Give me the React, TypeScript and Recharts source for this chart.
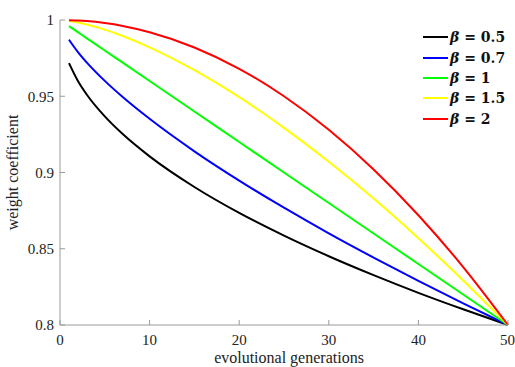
import { LineChart, Line, XAxis, YAxis, Legend, Label } from 'recharts'

// generation index and weight coefficient
const generations = [1, 2, 3, 5, 7, 10, 15, 20, 25, 30, 35, 40, 45, 50]
const beta05 = [0.9717, 0.96, 0.951, 0.9368, 0.9252, 0.9106, 0.8905, 0.8735, 0.8586, 0.8451, 0.8327, 0.8211, 0.8103, 0.8]
const beta07 = [0.9871, 0.979, 0.9721, 0.9601, 0.9495, 0.9352, 0.9139, 0.8947, 0.8769, 0.8601, 0.8442, 0.8289, 0.8142, 0.8]
const beta1 = [0.996, 0.992, 0.988, 0.98, 0.972, 0.96, 0.94, 0.92, 0.9, 0.88, 0.86, 0.84, 0.82, 0.8]
const beta15 = [0.9994, 0.9984, 0.9971, 0.9937, 0.9895, 0.9821, 0.9671, 0.9494, 0.9293, 0.907, 0.8829, 0.8569, 0.8292, 0.8]
const beta2 = [0.9999, 0.9997, 0.9993, 0.998, 0.9961, 0.992, 0.982, 0.968, 0.95, 0.928, 0.902, 0.872, 0.838, 0.8]

const xTicks = [0, 10, 20, 30, 40, 50]
const yTicks = [0.8, 0.85, 0.9, 0.95, 1]

const series = [
  { key: 'b05', label: '0.5', color: '#000000' },
  { key: 'b07', label: '0.7', color: '#0000ff' },
  { key: 'b1', label: '1', color: '#00ff00' },
  { key: 'b15', label: '1.5', color: '#ffff00' },
  { key: 'b2', label: '2', color: '#ff0000' },
]

const data = generations.map((t, i) => ({
  t,
  b05: beta05[i],
  b07: beta07[i],
  b1: beta1[i],
  b15: beta15[i],
  b2: beta2[i],
}))

const serif = '"Liberation Serif", "Times New Roman", serif'
const axisGray = '#9a9a9a'

function BetaLegend() {
  return (
    <div style={{ fontFamily: '"DejaVu Serif", serif', fontWeight: 'bold', fontSize: 14, color: '#111' }}>
      {series.map((s) => (
        <div key={s.key} style={{ display: 'flex', alignItems: 'center', height: 20.4 }}>
          <div style={{ width: 25, height: 2, background: s.color, marginRight: 2 }} />
          <span style={{ whiteSpace: 'nowrap' }}>
            <span style={{ fontStyle: 'italic' }}>β</span> = {s.label}
          </span>
        </div>
      ))}
    </div>
  )
}

export default function App() {
  return (
    <div style={{ position: 'fixed', left: 0, top: 0, background: '#fff' }}>
      <LineChart width={515} height={367} data={data} margin={{ top: 20, right: 7, bottom: 0, left: 0 }}>
        <XAxis
          dataKey="t"
          type="number"
          domain={[0, 50]}
          ticks={xTicks}
          height={42}
          stroke={axisGray}
          tickSize={-5}
          tickMargin={14}
          tick={{ fill: '#222', fontFamily: serif, fontSize: 15 }}
        >
          <Label
            value="evolutional generations"
            position="insideBottom"
            offset={4}
            dx={5}
            style={{ fill: '#222', fontFamily: serif, fontSize: 16 }}
          />
        </XAxis>
        <YAxis
          type="number"
          domain={[0.8, 1]}
          ticks={yTicks}
          width={60}
          stroke={axisGray}
          tickSize={-5}
          tickMargin={11}
          tick={{ fill: '#222', fontFamily: serif, fontSize: 15 }}
        >
          <Label
            value="weight coefficient"
            angle={-90}
            position="insideLeft"
            offset={12}
            style={{ fill: '#222', fontFamily: serif, fontSize: 16, textAnchor: 'middle' }}
          />
        </YAxis>
        <Legend
          content={<BetaLegend />}
          layout="horizontal"
          verticalAlign="middle"
          align="center"
          wrapperStyle={{ top: 27, left: 423, width: 92 }}
        />
        {series.map((s) => (
          <Line
            key={s.key}
            type="monotone"
            dataKey={s.key}
            stroke={s.color}
            strokeWidth={2}
            dot={false}
            isAnimationActive={false}
          />
        ))}
      </LineChart>
    </div>
  )
}
